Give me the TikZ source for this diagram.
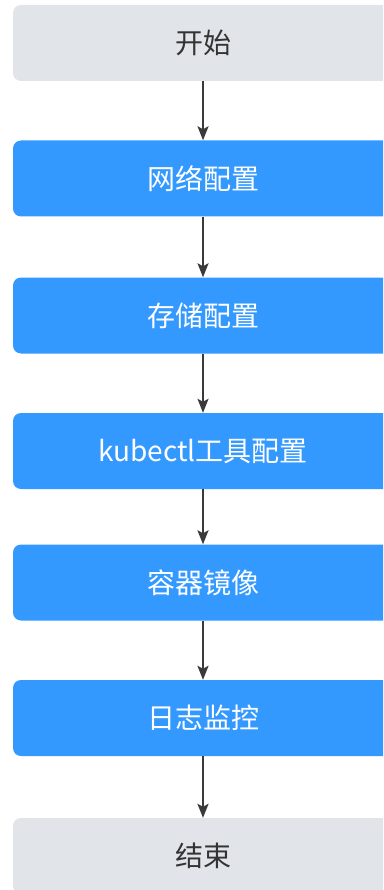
\documentclass[tikz,border=0pt]{standalone}
\usepackage{fontspec}
\setmainfont{Noto Sans CJK SC}
\usetikzlibrary{arrows.meta}

\definecolor{stepblue}{HTML}{3399FF}
\definecolor{endgray}{HTML}{E1E4E8}
\definecolor{arrowgray}{HTML}{3A3A3A}

\begin{document}
\begin{tikzpicture}[x=1pt, y=-1pt,
		box/.style={rounded corners=8pt, minimum width=380pt, minimum height=76pt,
			inner sep=0pt, font=\fontsize{28}{32}\selectfont},
		endbox/.style={box, fill=endgray, text=black!80},
		stepbox/.style={box, fill=stepblue, text=white},
		flow/.style={-{Stealth[length=14pt, width=11pt, inset=3pt]}, line width=2pt, arrowgray}
	]
			\clip (0,0) rectangle (383,890);
			
			\node[endbox] (start) at (203,43) {开始};
			\node[stepbox] (net) at (203,178.5) {网络配置};
			\node[stepbox] (store) at (203,315.5) {存储配置};
			\node[stepbox] (kubectl) at (203,451) {kubectl工具配置};
			\node[stepbox] (image) at (203,582.5) {容器镜像};
			\node[stepbox] (logs) at (203,718) {日志监控};
			\node[endbox] (finish) at (203,856) {结束};
			
			\draw[flow] (start) -- (net);
			\draw[flow] (net) -- (store);
			\draw[flow] (store) -- (kubectl);
			\draw[flow] (kubectl) -- (image);
			\draw[flow] (image) -- (logs);
			\draw[flow] (logs) -- (finish);
		\end{tikzpicture}
\end{document}
